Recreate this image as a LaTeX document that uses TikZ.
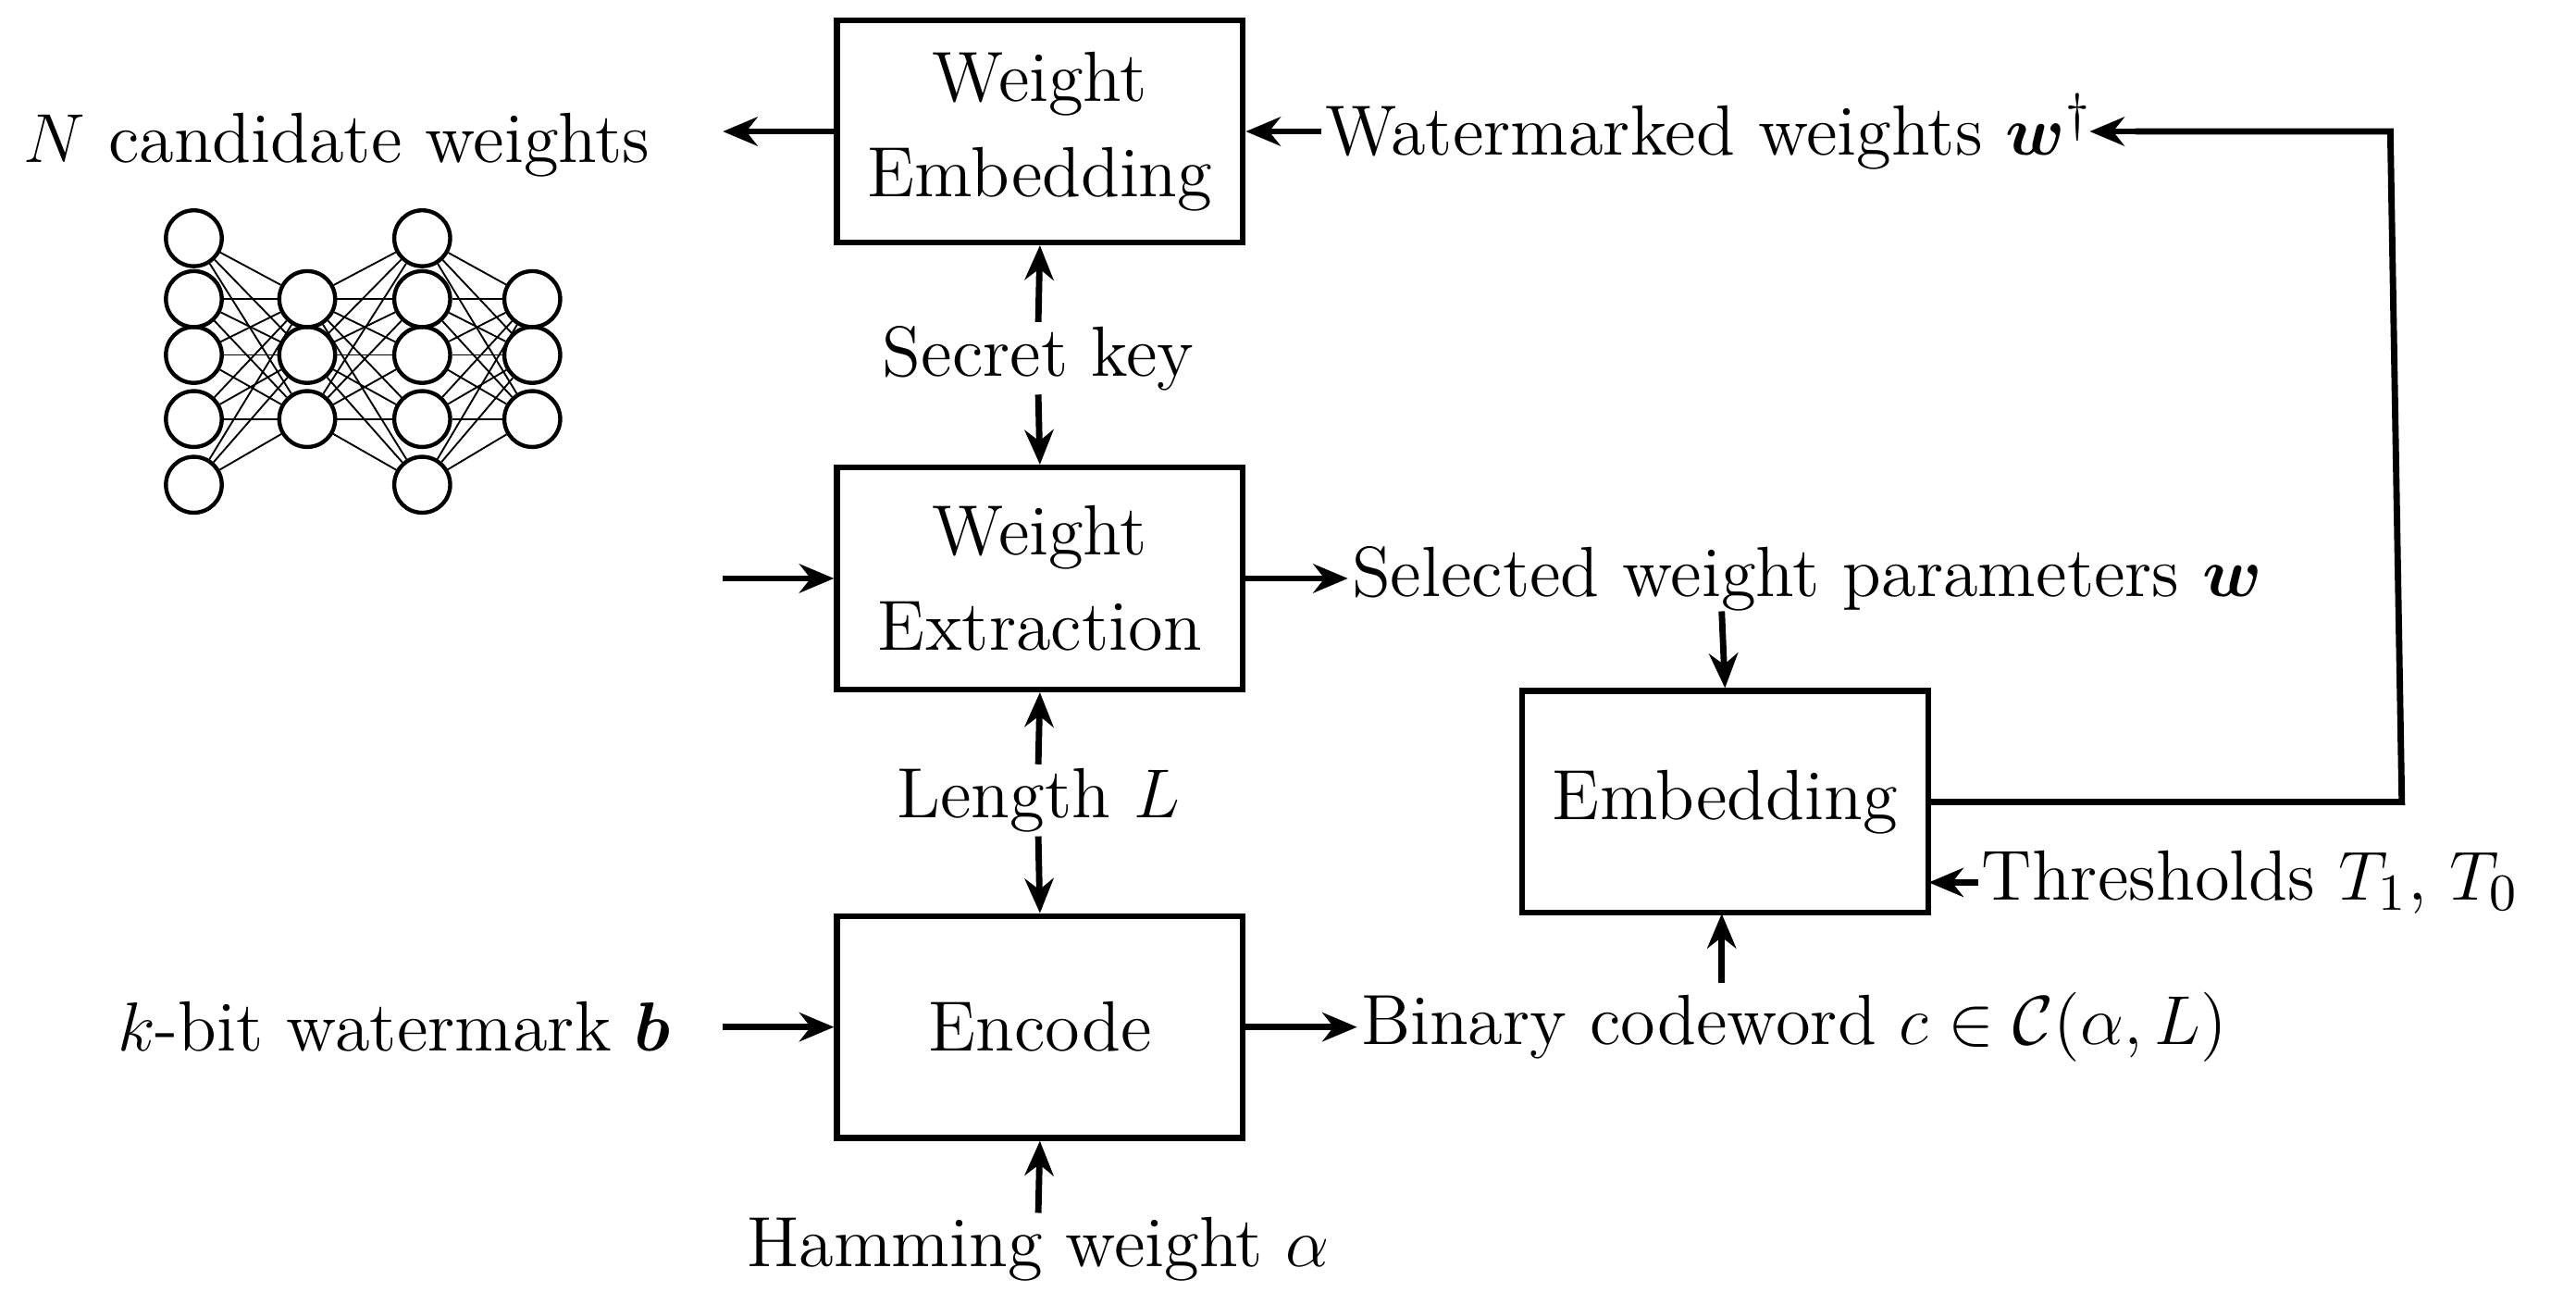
\documentclass[tikz,border=0pt]{standalone}
\usepackage{amsmath,amssymb,bm}
\usetikzlibrary{arrows.meta}
\begin{document}
\begin{tikzpicture}[x=0.01cm,y=-0.01cm,font=\fontsize{12.3}{14.5}\selectfont,
  box/.style={draw,line width=1pt,minimum width=2.47cm,minimum height=1.35cm,align=center,inner sep=0pt},
  lbl/.style={inner sep=0.5pt},
  arr/.style={-{Stealth[length=6pt,width=5pt]},line width=1.1pt},
  ln/.style={line width=1.1pt},
  neu/.style={circle,draw,line width=0.7pt,minimum size=0.34cm,inner sep=0pt}]
\useasboundingbox (0,0) rectangle (1568,794);
\node[box] (we) at (633,80) {Weight\\[2pt]Embedding};
\node[box] (wx) at (633,352) {Weight\\[2pt]Extraction};
\node[box] (en) at (633,625) {Encode};
\node[box] (em) at (1050,488) {Embedding};
\node[lbl] (ncw) at (205,88) {$N$ candidate weights};
\coordinate (ncwa) at (440,80);
\draw[arr] (we.west) -- (ncwa);
\node[lbl] (ww) at (1040,80) {Watermarked weights $\bm{w}^{\dagger}$};
\draw[arr] (ww.west) -- (we.east);
\coordinate (c1) at (1462,488);
\coordinate (c2) at (1455,80);
\coordinate (c3) at (1272,80);
\draw[ln] (em.east) -- (c1) -- (c2) -- (1300,80);
\draw[arr] (1300,80) -- (c3);
\node[lbl] (sk) at (632,218) {Secret key};
\draw[arr] (sk.north) -- (we.south);
\draw[arr] (sk.south) -- (wx.north);
\coordinate (inx) at (440,352);
\draw[arr] (inx) -- (wx.west);
\node[lbl] (sw) at (1100,352) {Selected weight parameters $\bm{w}$};
\draw[arr] (wx.east) -- (sw.west);
\coordinate (swb) at (1048,372);
\draw[arr] (swb) -- (em.north);
\node[lbl] (ll) at (632,487) {Length $L$};
\draw[arr] (ll.north) -- (wx.south);
\draw[arr] (ll.south) -- (en.north);
\node[lbl] (th) at (1370,537) {Thresholds $T_1$, $T_0$};
\draw[arr] (th.west) -- (1174,537);
\node[lbl] (bc) at (1092,625) {Binary codeword $c\in\mathcal{C}(\alpha,L)$};
\draw[arr] (en.east) -- (bc.west);
\coordinate (bct) at (1048,598);
\draw[arr] (bct) -- (1048,556);
\node[lbl] (kb) at (240,625) {$k$-bit watermark $\bm{b}$};
\coordinate (kbr) at (440,625);
\draw[arr] (kbr) -- (en.west);
\node[lbl] (hw) at (632,760) {Hamming weight $\alpha$};
\draw[arr] (hw.north) -- (en.south);
% neural net
\foreach \i/\y in {1/145,2/182,3/216,4/255,5/295}{\node[neu] (a\i) at (118,\y) {}; \node[neu] (c\i) at (257,\y) {};}
\foreach \i/\y in {1/182,2/216,3/255}{\node[neu] (b\i) at (187,\y) {}; \node[neu] (d\i) at (324,\y) {};}
\foreach \i in {1,...,5}{\foreach \j in {1,2,3}{
  \draw[line width=0.3pt] (a\i) -- (b\j);
  \draw[line width=0.3pt] (b\j) -- (c\i);
  \draw[line width=0.3pt] (c\i) -- (d\j);}}
\end{tikzpicture}
\end{document}
